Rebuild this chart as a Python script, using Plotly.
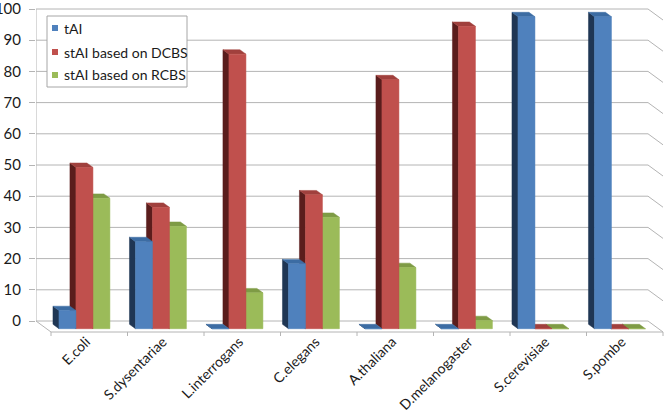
import plotly.graph_objects as go

# ---------------- data ----------------
categories = ["E.coli", "S.dysentariae", "L.interrogans", "C.elegans",
              "A.thaliana", "D.melanogaster", "S.cerevisiae", "S.pombe"]
series_names = ["tAI", "stAI based on DCBS", "stAI based on RCBS"]
tai = [5.8, 27.9, 0, 20.8, 0, 0, 100, 100]
stai_dcbs = [51.7, 38.9, 88.0, 42.9, 79.8, 96.9, 0, 0]
stai_rcbs = [41.8, 32.8, 11.5, 35.7, 19.6, 2.6, 0, 0]
y_ticks = list(range(0, 101, 10))

# ---------------- style ----------------
front_col = ["#4F81BD", "#C0504D", "#9BBB59"]
side_col = ["#1F3654", "#5A1D1C", "#4F6127"]
top_col = ["#3C6CA3", "#A0403D", "#7E9B45"]
grid_col = "#B4B4B4"
FONT = "Lato"
TXT = "#1a1a1a"

# geometry of the pseudo-3D view (pixel sizes converted to axis units)
PX_X = 76.5           # pixels per category
PX_Y = 3.12           # pixels per value unit
DX = 15 / PX_X        # floor depth, x component
DY = -11 / PX_Y       # floor depth, y component
D0, D1 = 0.3, 0.7     # bar depth span (fraction of floor depth)
GROUP_START = 0.163
BAR_W = 0.222
n = len(categories)

L, R, T, B = 36, 2, 8, 73
W, H = 666, 410
plot_w = W - L - R
plot_h = H - T - B
x_max = plot_w / PX_X
y_top = 100 + 1 / PX_Y
y_min = y_top - plot_h / PX_Y


def px_x(p):   # pixel -> paper x
    return (p - L) / plot_w


def px_y(p):   # pixel -> paper y
    return (H - B - p) / plot_h


fig = go.Figure()

# ---- back-wall gridlines with the right-hand depth diagonals ----
gx, gy = [], []
for v in y_ticks:
    gx += [0, n, n + DX, None]
    gy += [v, v, v + DY, None]
# floor: left diagonal + front edge
gx += [0, DX, n + DX, None]
gy += [0, DY, DY, None]
# tick marks on the floor front edge at category boundaries
for k in range(n + 1):
    gx += [k + DX, k + DX, None]
    gy += [DY, DY - 4 / PX_Y, None]
# left wall edge
gx += [0, 0, None]
gy += [0, 100, None]
fig.add_trace(go.Scatter(x=gx, y=gy, mode="lines",
                         line=dict(color=grid_col, width=1),
                         hoverinfo="skip", showlegend=False))

# ---- bars: faces drawn back-to-front (right series first) ----
values = [tai, stai_dcbs, stai_rcbs]
ox = (D1 - D0) * DX
yf0, yb0 = D1 * DY, D0 * DY
for s in [2, 1, 0]:
    sx, sy, tx, ty, fx, fy = [], [], [], [], [], []
    for i, v in enumerate(values[s]):
        x0 = i + GROUP_START + s * BAR_W + D1 * DX
        x1 = x0 + BAR_W
        # left side face
        sx += [x0, x0, x0 - ox, x0 - ox, x0, None]
        sy += [yf0, v + yf0, v + yb0, yb0, yf0, None]
        # top face
        tx += [x0, x1, x1 - ox, x0 - ox, x0, None]
        ty += [v + yf0, v + yf0, v + yb0, v + yb0, v + yf0, None]
        # front face
        fx += [x0, x1, x1, x0, x0, None]
        fy += [yf0, yf0, v + yf0, v + yf0, yf0, None]
    for xs, ys, col in [(sx, sy, side_col[s]), (tx, ty, top_col[s]), (fx, fy, front_col[s])]:
        fig.add_trace(go.Scatter(x=xs, y=ys, mode="lines", fill="toself",
                                 fillcolor=col, line=dict(color=col, width=0.5),
                                 name=series_names[s],
                                 hoverinfo="skip", showlegend=False))

# ---- legend box (Excel style) ----
LEG_L, LEG_T, LEG_R, LEG_B = 47, 16, 187, 87
row_y = [28, 52, 75]
shapes = [dict(type="rect", xref="paper", yref="paper", layer="above",
               x0=px_x(LEG_L), x1=px_x(LEG_R), y0=px_y(LEG_B), y1=px_y(LEG_T),
               fillcolor="white", line=dict(color="#A6A6A6", width=1))]
annotations = []
for s, name in enumerate(series_names):
    shapes.append(dict(type="rect", xref="paper", yref="paper", layer="above",
                       x0=px_x(52), x1=px_x(58), y0=px_y(row_y[s] + 3), y1=px_y(row_y[s] - 3),
                       fillcolor=front_col[s], line=dict(width=0)))
    annotations.append(dict(text=name, xref="paper", yref="paper",
                            x=px_x(62), y=px_y(row_y[s]), xanchor="left", yanchor="middle",
                            showarrow=False, font=dict(family=FONT, size=14, color=TXT)))

tick_x = [i + 0.5 + DX - 0.04 for i in range(n)]

fig.update_layout(
    width=W, height=H,
    margin=dict(l=L, r=R, t=T, b=B, pad=0, autoexpand=False),
    paper_bgcolor="white", plot_bgcolor="white",
    font=dict(family=FONT, color=TXT),
    hovermode=False,
    showlegend=False,
    shapes=shapes,
    annotations=annotations,
    xaxis=dict(range=[0, x_max], showgrid=False, zeroline=False, showline=False,
               automargin=False,
               tickmode="array", tickvals=tick_x, ticktext=categories,
               tickangle=-45, ticks="", ticklabelstandoff=-7,
               ticklabeloverflow="allow",
               tickfont=dict(family=FONT, size=14, color=TXT),
               fixedrange=True),
    yaxis=dict(range=[y_min, y_top], showgrid=False, zeroline=False,
               showline=False, automargin=False,
               tickmode="array", tickvals=y_ticks,
               ticks="outside", ticklen=6, tickcolor=grid_col,
               ticklabelstandoff=5, ticklabeloverflow="allow",
               tickfont=dict(family=FONT, size=15, color=TXT),
               fixedrange=True),
)

fig.write_html("out.html", config={"displayModeBar": False},
               post_script="document.body.style.margin='0';document.body.style.overflow='hidden';")
